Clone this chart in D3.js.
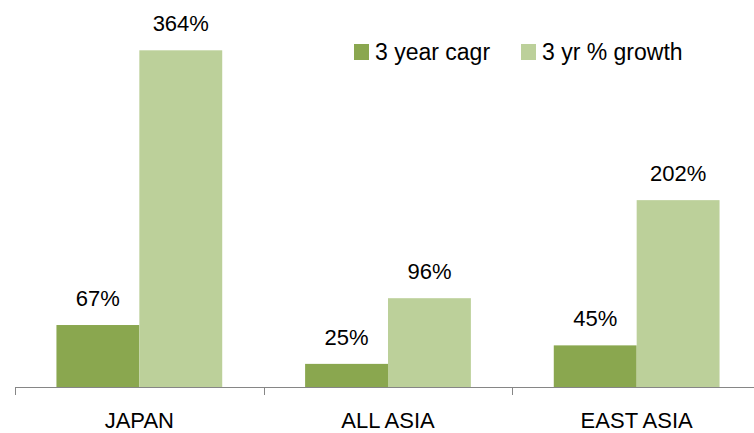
<!DOCTYPE html>
<html lang="en">
<head>
<meta charset="utf-8">
<title>Growth by region</title>
<script src="https://cdn.jsdelivr.net/npm/d3@7"></script>
<style>
  body { margin: 0; background: #fff; }
  svg text { font-family: "Liberation Sans", Arial, sans-serif; fill: #000; }
  .axis path, .axis line { stroke: #868686; }
</style>
</head>
<body>
<script>
// data
var regions = ["JAPAN", "ALL ASIA", "EAST ASIA"];
var seriesNames = ["3 year cagr", "3 yr % growth"];
var cagr = [67, 25, 45];
var growth = [364, 96, 202];
var colors = ["#8aa74f", "#bcd09a"];

var w = 754, h = 433;
var plotLeft = 15, plotRight = 761, plotBase = 387, plotTop = 17;

var svg = d3.select("body").append("svg")
  .attr("width", w)
  .attr("height", h);

var x = d3.scaleBand().domain(regions).range([plotLeft, plotRight]);
var inner = d3.scaleBand().domain(seriesNames)
  .range([x.bandwidth() / 6, x.bandwidth() * 5 / 6]);
var y = d3.scaleLinear().domain([0, 400]).range([plotBase, plotTop]);

var rows = [];
regions.forEach(function(r, i) {
  rows.push({ region: r, s: 0, v: cagr[i] });
  rows.push({ region: r, s: 1, v: growth[i] });
});

svg.selectAll("rect.bar")
  .data(rows)
  .enter().append("rect")
  .attr("class", "bar")
  .attr("x", function(d) { return x(d.region) + inner(seriesNames[d.s]); })
  .attr("y", function(d) { return y(d.v); })
  .attr("width", inner.bandwidth())
  .attr("height", function(d) { return y(0) - y(d.v); })
  .attr("fill", function(d) { return colors[d.s]; });

svg.selectAll("text.lbl")
  .data(rows)
  .enter().append("text")
  .attr("class", "lbl")
  .attr("x", function(d) { return x(d.region) + inner(seriesNames[d.s]) + inner.bandwidth() / 2; })
  .attr("y", function(d) { return y(d.v) - 19; })
  .attr("text-anchor", "middle")
  .attr("font-size", "22px")
  .text(function(d) { return d.v + "%"; });

// x axis, ticks between categories
var xAxis = d3.axisBottom(x).tickSize(0).tickPadding(25);
var gx = svg.append("g")
  .attr("class", "axis")
  .attr("transform", "translate(0," + plotBase + ")")
  .call(xAxis);
gx.select(".domain").remove();
gx.selectAll("text").attr("font-size", "22px").style("font-family", null);
gx.append("line")
  .attr("x1", plotLeft).attr("x2", plotRight)
  .attr("y1", 0.5).attr("y2", 0.5);
gx.selectAll("line.sep")
  .data(regions.concat(["end"]))
  .enter().append("line")
  .attr("class", "sep")
  .attr("x1", function(d, i) { return Math.round(plotLeft + i * x.bandwidth()) + 0.5; })
  .attr("x2", function(d, i) { return Math.round(plotLeft + i * x.bandwidth()) + 0.5; })
  .attr("y1", 0).attr("y2", 8);

// legend
var legX = [354, 521];
var leg = svg.selectAll("g.leg")
  .data(seriesNames)
  .enter().append("g")
  .attr("class", "leg")
  .attr("transform", function(d, i) { return "translate(" + legX[i] + ",44)"; });
leg.append("rect")
  .attr("width", 15).attr("height", 16)
  .attr("fill", function(d, i) { return colors[i]; });
leg.append("text")
  .attr("x", 21).attr("y", 16)
  .attr("font-size", "23px")
  .text(function(d) { return d; });
</script>
</body>
</html>
